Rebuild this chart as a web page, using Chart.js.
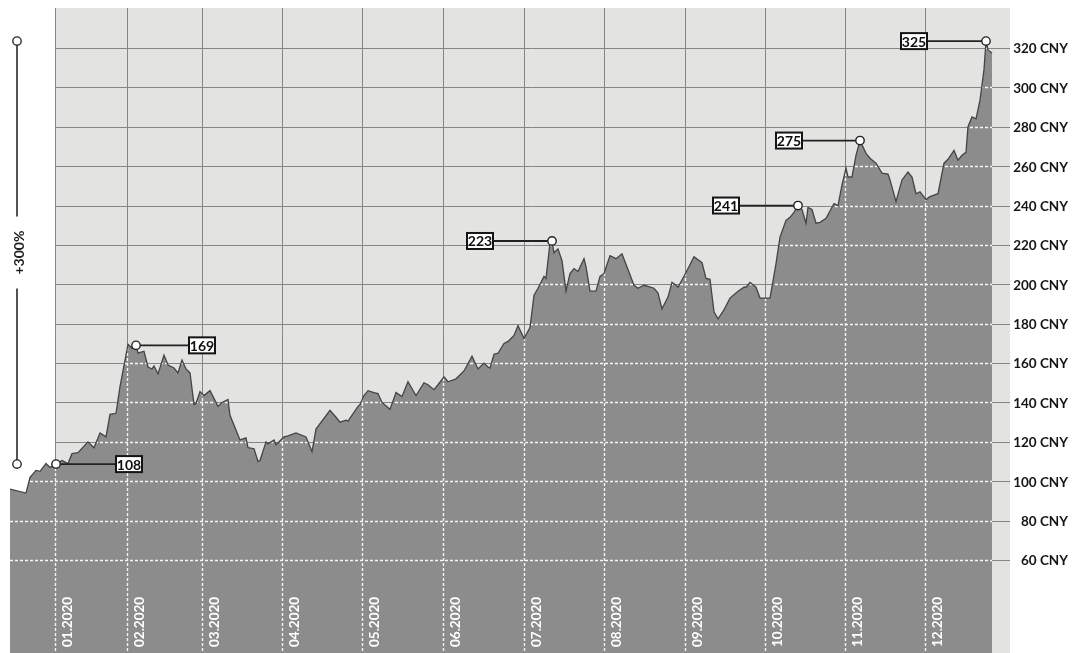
<!DOCTYPE html>
<html>
<head>
<meta charset="utf-8">
<script src="https://cdn.jsdelivr.net/npm/chart.js@4.4.1/dist/chart.umd.min.js"></script>
<style>
html,body{margin:0;padding:0;background:#fff;}
#wrap{width:1072px;height:653px;position:relative;}
</style>
</head>
<body>
<div id="wrap"><canvas id="c"></canvas></div>
<script>
// ---- data (trading-day index, price in CNY) ----
const days = [0,4,5,6.5,7.5,9,10,11.5,13,14.5,15.5,17,19.5,21,22.5,24,25,26.5,27.5,29,29.5,30.5,31.5,32,33.5,34.5,35.5,36,37,38.5,39.5,41,42,43,44,45,46,46.5,47.5,48.5,50,52,53,54.5,55,57.5,59,59.5,61,62,62.5,64,64.5,66,66.5,68.5,69.5,71.5,74,74.5,75.5,76.5,80,81.5,82.5,84,84.5,87,87.5,88.5,89.5,91,92,93,95,96.5,98,99.5,101.5,103.5,104.5,106,107,108.5,109.5,111.5,113.5,115.5,117,118.5,119.5,120,121,122,123.5,124.5,126,127,128.5,130,131,132,133.5,134,135,135.5,136,137,138,139,140,141,142,143.5,144,145,146.5,147.5,148.5,150,151.5,153,156,157,158.5,159.5,161,162,163,164.5,165.5,166.5,167,169,171,173,174,175,176,177,178.5,180,182,183.5,184,185,186.5,187.5,189.5,190,191,191.5,192.5,194,195,196,197,198,199,199.5,200.5,201.5,202.5,204,206,207,208,209,209.5,210.5,211.5,212.5,214,215,216.5,218,219.5,220,221.5,223,224.5,225.5,226.5,227.5,229,230,232,233.5,234.5,236,237,238,239,239.5,240.5,241.5,242.5,243.5,244,244.5,245.5];
const prices = [96,94,102,105.5,105,109,107,108.7,110.5,109,114,114.5,120,117,124.5,122.5,134,134.5,148,164,169.5,167.5,169,165,166,158,157,158.5,154.5,164,159,157.5,155,161.5,157,155,139,139.5,145.5,143.5,146,138,140,141.5,133.5,121,122,117,116.5,110,110.5,120,119,121,118.5,122.5,123,124.5,122.5,120,115,126.5,136,132.5,130,131,130.5,138,139,143.5,146,145,144.5,140,136.5,145,143,150.5,143.5,150,149,146.5,149,153,150.5,152,156,163.5,157,160,158,157.5,164.5,165,170,171,174,179,172.5,178,194.5,198,204,203,221,222,216,218,212,196.5,205.5,208,206.5,213,209,196.5,196.5,204,205.5,214.5,213,215.5,199.5,198,199.5,199,198,195.5,187.5,193.5,201,199.5,198.5,206,214,211,203,202.5,186,182.5,187,193,196.5,198.5,198.5,201,198.5,193,193,193,204.5,210.5,224,232.5,234,236.5,240,238,231,239,238,231,231.5,233.5,241,240,250.5,259,254.5,254.5,265.5,273,266.5,264,261.5,256.5,256,253,242,253,257,254.5,246,247,243,244.5,246,261.5,263.5,268,263,265.5,267,280,285,284,293.5,309,323.5,319,317.5];

const monthLabels = ['01.2020','02.2020','03.2020','04.2020','05.2020','06.2020','07.2020','08.2020','09.2020','10.2020','11.2020','12.2020'];
const monthStarts = [11.25,29.25,48,68,88,108.25,128.5,148.5,168.75,188.75,208.75,228.75];
const yTicks = [60,80,100,120,140,160,180,200,220,240,260,280,300,320];
const yUnit = 'CNY';
const peakDays = [11.5,31.5,135.5,197,212.5,244];
const peakLabels = ['108','169','223','241','275','325'];
const rangeLabel = '+300%';

// ---- layout/style config for annotations (not data) ----
const peakOffsets = [60,53,-59,-59,-58,-59];

const FONT = 'Lato, "Open Sans", sans-serif';

const decor = {
  id: 'decor',
  beforeDatasetsDraw(chart) {
    const {ctx, chartArea: a, scales: {x, y}} = chart;
    ctx.save();
    ctx.fillStyle = '#ffffff';
    ctx.fillRect(0, 0, chart.width, chart.height);
    const pl = Math.round(x.getPixelForValue(monthStarts[0]));
    ctx.fillStyle = '#e3e3e1';
    ctx.fillRect(pl, a.top, a.right - pl, a.bottom - a.top);
    ctx.strokeStyle = '#858585';
    ctx.lineWidth = 1;
    ctx.beginPath();
    yTicks.forEach(v => {
      const py = Math.round(y.getPixelForValue(v)) + 0.5;
      ctx.moveTo(pl, py); ctx.lineTo(a.right, py);
    });
    monthStarts.forEach(m => {
      const px = Math.round(x.getPixelForValue(m)) + 0.5;
      ctx.moveTo(px, a.top); ctx.lineTo(px, a.bottom);
    });
    ctx.stroke();
    ctx.restore();
  },
  beforeDatasetDraw(chart) {
    // runs after the filler has painted the area; dashed white grid clipped to area
    const {ctx, chartArea: a, scales: {x, y}} = chart;
    const pts = chart.getDatasetMeta(0).data;
    if (!pts.length) return;
    ctx.save();
    ctx.beginPath();
    ctx.moveTo(pts[0].x, a.bottom);
    pts.forEach(p => ctx.lineTo(p.x, p.y + 1));
    ctx.lineTo(pts[pts.length - 1].x, a.bottom);
    ctx.closePath();
    ctx.clip();
    ctx.setLineDash([3, 2]);
    ctx.strokeStyle = 'rgba(255,255,255,0.92)';
    ctx.lineWidth = 1.4;
    ctx.beginPath();
    yTicks.forEach(v => {
      const py = Math.round(y.getPixelForValue(v)) + 0.5;
      ctx.moveTo(a.left, py); ctx.lineTo(a.right, py);
    });
    monthStarts.forEach(m => {
      const px = Math.round(x.getPixelForValue(m)) + 0.5;
      ctx.moveTo(px, a.top); ctx.lineTo(px, a.bottom);
    });
    ctx.stroke();
    ctx.restore();
  },
  afterDatasetsDraw(chart) {
    const {ctx, chartArea: a, scales: {x, y}} = chart;
    ctx.save();
    // month labels (rotated, white, inside area)
    ctx.fillStyle = '#ffffff';
    ctx.font = 'bold 13.5px ' + FONT;
    ctx.textAlign = 'left';
    ctx.textBaseline = 'alphabetic';
    monthStarts.forEach((m, i) => {
      const px = x.getPixelForValue(m);
      ctx.save();
      ctx.translate(px + 17, a.bottom - 6);
      ctx.rotate(-Math.PI / 2);
      ctx.fillText(monthLabels[i], 0, 0);
      ctx.restore();
    });
    // y labels on the right
    ctx.fillStyle = '#151515';
    ctx.font = 'bold 13.5px ' + FONT;
    ctx.textAlign = 'right';
    ctx.textBaseline = 'middle';
    yTicks.forEach(v => {
      ctx.fillText(v + ' ' + yUnit, chart.width - 4, y.getPixelForValue(v) + 1);
    });
    // peak annotations
    const peakPt = d => {
      const i = days.indexOf(d);
      return {px: x.getPixelForValue(d), py: y.getPixelForValue(prices[i])};
    };
    peakDays.forEach((d, k) => {
      const {px, py} = peakPt(d);
      const off = peakOffsets[k];
      const bw = 26, bh = 16;
      const bx = off > 0 ? px + off : px + off - bw;
      ctx.strokeStyle = '#222';
      ctx.lineWidth = 1.8;
      ctx.beginPath();
      ctx.moveTo(px, py);
      ctx.lineTo(off > 0 ? bx : bx + bw, py);
      ctx.stroke();
      ctx.fillStyle = '#ffffff';
      ctx.fillRect(bx, py - bh / 2, bw, bh);
      ctx.lineWidth = 2;
      ctx.strokeStyle = '#141414';
      ctx.strokeRect(bx, py - bh / 2, bw, bh);
      ctx.fillStyle = '#0e0e0e';
      ctx.font = 'bold 14px ' + FONT;
      ctx.textAlign = 'center';
      ctx.textBaseline = 'middle';
      ctx.fillText(peakLabels[k], bx + bw / 2, py + 1);
      ctx.beginPath();
      ctx.arc(px, py, 4.2, 0, Math.PI * 2);
      ctx.fillStyle = '#ffffff';
      ctx.fill();
      ctx.lineWidth = 1.4;
      ctx.strokeStyle = '#222';
      ctx.stroke();
    });
    // range bracket on the left
    const top = peakPt(peakDays[peakDays.length - 1]).py;
    const bot = peakPt(peakDays[0]).py;
    const bxp = 17;
    const mid = (top + bot) / 2;
    ctx.strokeStyle = '#2a2a2a';
    ctx.lineWidth = 1.6;
    ctx.beginPath();
    ctx.moveTo(bxp, top); ctx.lineTo(bxp, mid - 36);
    ctx.moveTo(bxp, mid + 36); ctx.lineTo(bxp, bot);
    ctx.stroke();
    [top, bot].forEach(py => {
      ctx.beginPath();
      ctx.arc(bxp, py, 4.2, 0, Math.PI * 2);
      ctx.fillStyle = '#fff';
      ctx.fill();
      ctx.lineWidth = 1.4;
      ctx.stroke();
    });
    ctx.save();
    ctx.translate(bxp + 2, mid);
    ctx.rotate(-Math.PI / 2);
    ctx.fillStyle = '#222';
    ctx.font = 'bold 14px ' + FONT;
    ctx.textAlign = 'center';
    ctx.textBaseline = 'middle';
    ctx.fillText(rangeLabel, 0, 0);
    ctx.restore();
    ctx.restore();
  }
};

new Chart(document.getElementById('c'), {
  type: 'line',
  data: {
    datasets: [{
      data: days.map((d, i) => ({x: d, y: prices[i]})),
      borderColor: '#444444',
      borderWidth: 1.3,
      backgroundColor: '#8c8c8c',
      fill: 'start',
      pointRadius: 0,
      tension: 0
    }]
  },
  options: {
    responsive: true,
    maintainAspectRatio: false,
    animation: false,
    layout: {padding: {left: 10, top: 8, right: 62, bottom: 0}},
    plugins: {legend: {display: false}, tooltip: {enabled: false}},
    scales: {
      x: {type: 'linear', min: 0, max: 250, display: false},
      y: {type: 'linear', min: 12.77, max: 340.31, display: false}
    }
  },
  plugins: [decor]
});
</script>
</body>
</html>
